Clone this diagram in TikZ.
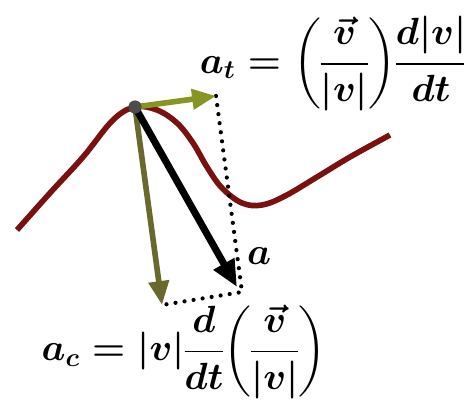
\documentclass[tikz,border=0pt]{standalone}
\usepackage{amsmath}
\usetikzlibrary{arrows.meta, positioning}
\definecolor{curvered}{RGB}{122,16,16}
\definecolor{tangreen}{RGB}{135,150,35}
\definecolor{normolive}{RGB}{105,105,45}
\newcommand{\tighteq}{\mskip5mu{=}\mskip5mu}

\begin{document}
\begin{tikzpicture}[
    x=0.025cm, y=-0.025cm,
    vec/.style={line width=4pt, -{Triangle[length=17pt, width=14pt]}},
    guide/.style={line width=3pt, dash pattern=on 0pt off 6.5pt, line cap=round},
    formula/.style={inner sep=0pt, scale=1.3, font={\huge\boldmath\nulldelimiterspace=0pt}}
]
\useasboundingbox (0,0) rectangle (464,401);

% Points
\coordinate (p) at (135,107);
\coordinate (ttip) at (216,96);
\coordinate (atip) at (237,287);
\coordinate (corner) at (242,292);
\coordinate (ntip) at (162,305);

% Curve
\draw [curvered, line width=4pt] plot [smooth, tension=0.6] coordinates {
    (17,230) (50,193) (83,157) (113,120) (135,107) (157,110) (177,123)
    (193,143) (207,167) (222,188) (242,203) (262,205) (285,196) (317,177)
    (350,157) (390,135)};

% Dotted guides
\draw [guide] (ttip) -- (corner) -- (ntip);

% Arrows
\draw [vec, tangreen] (p) -- (ttip);
\draw [vec, normolive] (p) -- (ntip);
\draw [vec, black, line width=5pt, -{Triangle[length=19pt, width=16pt]}] (p) -- (atip);

% Nodes
\node (dot) [circle, fill=black!70, inner sep=0pt, minimum size=0.33cm] at (p) {};
\node (alabel) [formula] at (259,256) {$a$};
\node (atform) [formula] at (333,64) {$a_t\tighteq{\left(\dfrac{\vec{v}}{|v|}\right)}\dfrac{d|v|}{dt}$};
\node (acform) [formula] at (184,352) {$a_c\tighteq|v|\dfrac{d}{dt}{\left(\dfrac{\vec{v}}{|v|}\right)}$};

\end{tikzpicture}
\end{document}
